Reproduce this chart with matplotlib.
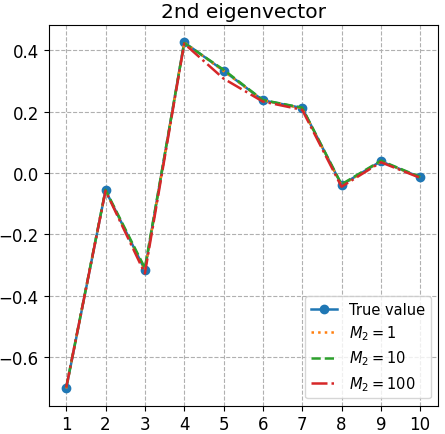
import numpy as np
import matplotlib
matplotlib.use('Agg')
import matplotlib.pyplot as plt

idx = [1, 2, 3, 4, 5, 6, 7, 8, 9, 10]
true_value = [-0.703, -0.057, -0.316, 0.426, 0.334, 0.237, 0.212, -0.039, 0.038, -0.014]
m2_1 = [-0.703, -0.057, -0.318, 0.426, 0.333, 0.237, 0.211, -0.040, 0.038, -0.014]
m2_10 = [-0.700, -0.055, -0.310, 0.424, 0.337, 0.238, 0.213, -0.037, 0.040, -0.013]
m2_100 = [-0.700, -0.058, -0.328, 0.422, 0.308, 0.233, 0.206, -0.045, 0.035, -0.016]

plt.rcParams['font.size'] = 12

fig, ax = plt.subplots(figsize=(4.45, 4.35), dpi=100)
ax.plot(idx, true_value, marker='o', markersize=6, linewidth=1.8, color='#1f77b4', label='True value')
ax.plot(idx, m2_1, linestyle=':', linewidth=1.8, color='#ff7f0e', label='$M_2=1$')
ax.plot(idx, m2_10, linestyle='--', linewidth=1.8, color='#2ca02c', label='$M_2=10$')
ax.plot(idx, m2_100, linestyle='-.', linewidth=1.8, color='#d62728', label='$M_2=100$')

ax.set_xticks(idx)
ax.set_title('2nd eigenvector', fontsize=14.5)
ax.grid(True, linestyle='--', color='#b0b0b0', linewidth=0.8)
ax.legend(loc='lower right', fontsize=10.5, handlelength=1.8, labelspacing=0.45)
fig.subplots_adjust(left=0.109, right=0.984, top=0.94, bottom=0.065)
plt.savefig('out.png', dpi=100)
